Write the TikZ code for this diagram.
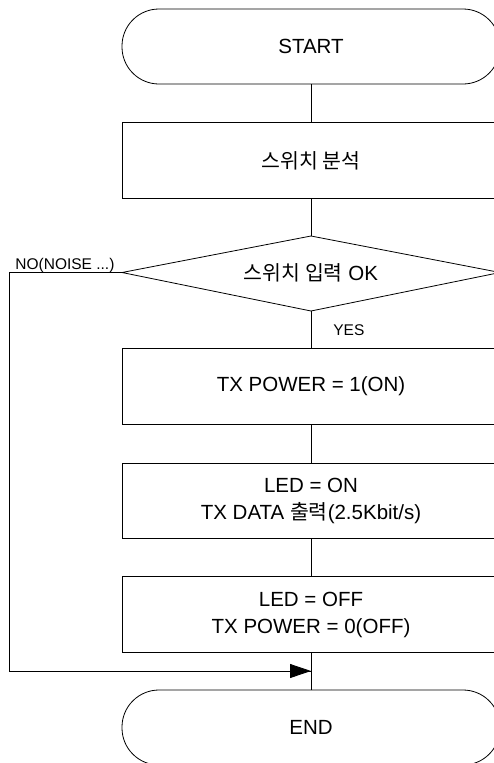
\documentclass[tikz,border=0pt]{standalone}
\usepackage{fontspec}
\setmainfont{Liberation Sans}
\newfontfamily\kr{Noto Sans CJK KR}
\usetikzlibrary{arrows.meta}
\begin{document}
\begin{tikzpicture}[x=1pt,y=-1pt,
  line width=0.8pt,
  every node/.style={font=\fontsize{20.5}{27}\selectfont},
  term/.style={draw, rectangle, rounded corners=37pt, minimum width=378pt, minimum height=75pt, inner sep=0pt},
  procbox/.style={draw, rectangle, minimum width=378pt, minimum height=75.5pt, inner sep=0pt, align=center},
  lbl/.style={font=\fontsize{15.5}{18}\selectfont, inner sep=0pt},
  flow/.style={line width=0.8pt}
]
\useasboundingbox (0,0) rectangle (494,763);
\clip (0,0) rectangle (494,763);
\node[term] (start) at (311,46.5) {START};
\node[procbox] (s1) at (311,160.5) {{\kr 스위치 분석}};
\coordinate (dt) at (311,236);
\coordinate (dl) at (122,272.5);
\coordinate (db) at (311,311);
\coordinate (dr) at (500,272.5);
\draw (dt) -- (dr) -- (db) -- (dl) -- cycle;
\node (dtext) at (311,272.5) {{\kr 스위치 입력} OK};
\node[procbox] (s2) at (311,386.5) {TX POWER = 1(ON)};
\node[procbox] (s3) at (311,501) {LED = ON\\TX DATA {\kr 출력}(2.5Kbit/s)};
\node[procbox] (s4) at (311,614.5) {LED = OFF\\TX POWER = 0(OFF)};
\node[term] (end) at (311,727.5) {END};
\coordinate (join) at (311,671);
\coordinate (lc) at (9,272.5);
\coordinate (lb) at (9,671);
\draw[flow] (start) -- (s1);
\draw[flow] (s1) -- (dt);
\draw[flow] (db) -- (s2);
\draw[flow] (s2) -- (s3);
\draw[flow] (s3) -- (s4);
\draw[flow] (s4) -- (end);
\draw[flow] (dl) -- (lc) -- (lb) -- (join);
\draw[flow, -{Triangle[length=21pt,width=14pt]}] (lb) -- (join);
\node[lbl, anchor=base west] (no) at (15,269) {NO(NOISE ...)};
\node[lbl, anchor=base west] (yes) at (333,335) {YES};
\end{tikzpicture}
\end{document}
